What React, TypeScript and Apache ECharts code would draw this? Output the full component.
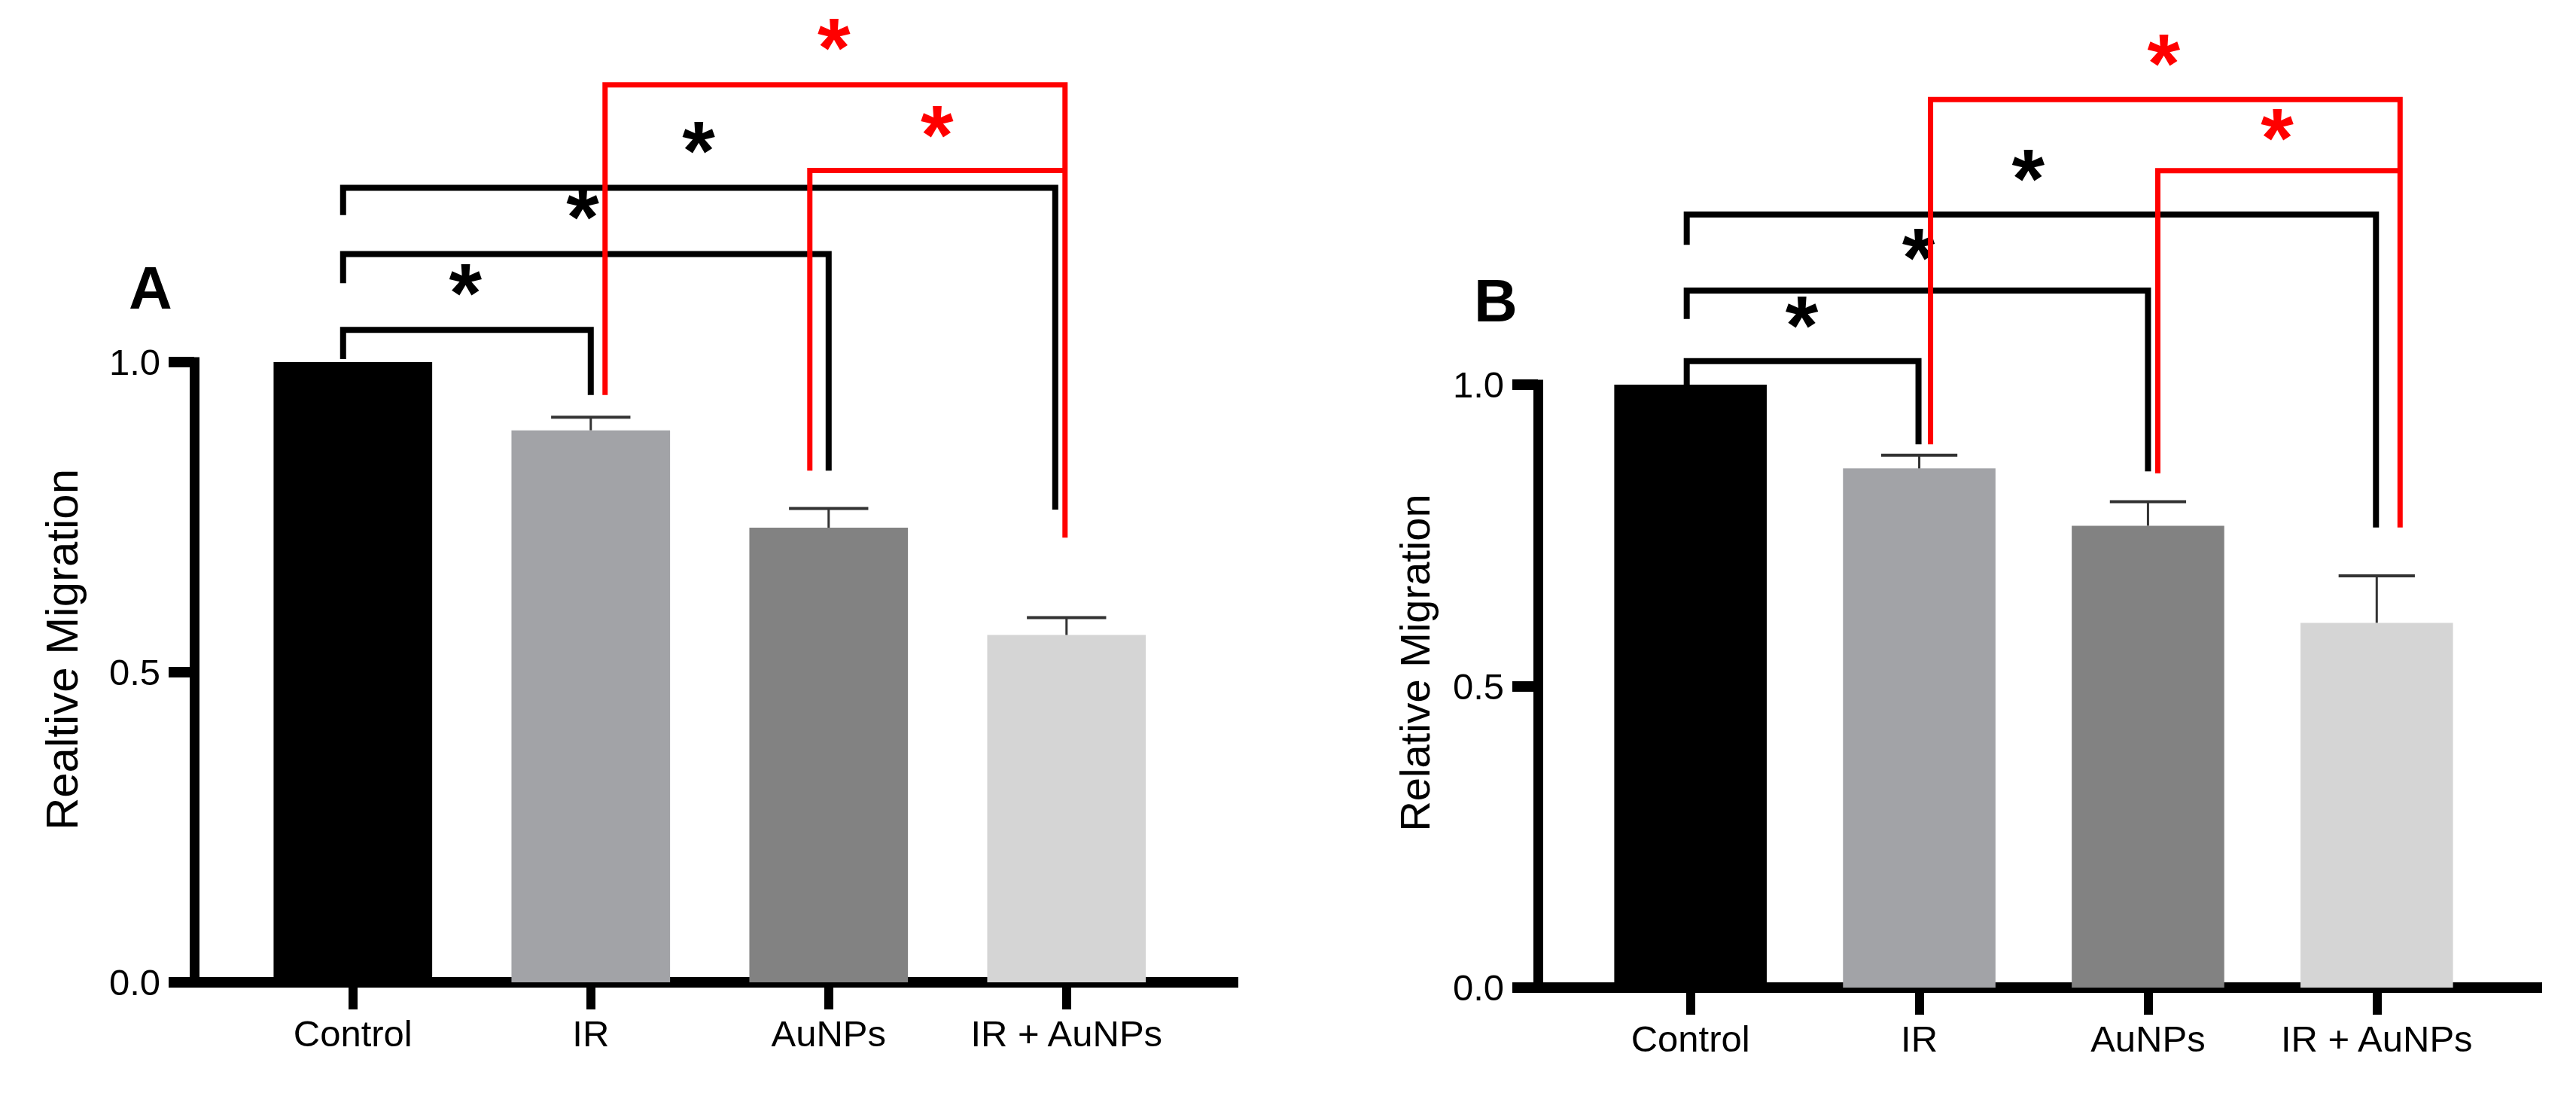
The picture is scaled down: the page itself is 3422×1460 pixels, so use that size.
import React, { useEffect, useRef } from "react";
import * as echarts from "echarts";

// ---------- data ----------
const categories = ["Control", "IR", "AuNPs", "IR + AuNPs"];
const yTickValues = [0, 0.5, 1.0];

const meansA = [1.0, 0.89, 0.733, 0.56];
const errorsA = [0, 0.021, 0.031, 0.028];
const meansB = [1.0, 0.861, 0.766, 0.605];
const errorsB = [0, 0.022, 0.04, 0.078];

// significance brackets: [fromCategory, toCategory, topValue, leftEndValue, rightEndValue]
const bracketsA = [
  [0, 1, 1.052, 1.005, 0.947],
  [0, 2, 1.174, 1.127, 0.825],
  [0, 3, 1.281, 1.237, 0.762],
  [1, 3, 1.447, 0.947, 0.717],
  [2, 3, 1.309, 0.825, 1.309],
];
// star positions: [categoryPosition, value]
const starsA = [
  [0.473, 1.132],
  [0.966, 1.255],
  [1.453, 1.362],
  [2.022, 1.528],
  [2.456, 1.387],
];
const bracketsB = [
  [0, 1, 1.039, 0.999, 0.901],
  [0, 2, 1.156, 1.109, 0.856],
  [0, 3, 1.282, 1.232, 0.763],
  [1, 3, 1.473, 0.901, 0.763],
  [2, 3, 1.355, 0.853, 1.355],
];
const starsB = [
  [0.487, 1.12],
  [0.997, 1.232],
  [1.476, 1.363],
  [2.069, 1.554],
  [2.565, 1.431],
];
// comparison group of each bracket (0 = vs Control, 1 = vs IR + AuNPs)
const bracketGroups = [0, 0, 0, 1, 1];

// ---------- styles / layout ----------
const barColors = ["#000000", "#a2a3a7", "#828282", "#d5d5d5"];
const groupColors = ["#000000", "#ff0000"];
const groupLineWidths = [8, 7];
const FONT = "Arial, 'Liberation Sans', Helvetica, sans-serif";
const X_MIN = -0.667;
const X_MAX = 3.7;
const STAR_SIZE = 112;

// pixel nudges of bracket legs relative to category centres: [left, right]
const legOffsetsA = [
  [-13, 0],
  [-13, 0],
  [-13, -15],
  [19, -2],
  [-25, -2],
];
const legOffsetsB = [
  [-5, -1],
  [-5, 0],
  [-5, -1],
  [15, 31],
  [13, 31],
];

const panels = [
  {
    letter: "A",
    yName: "Realtive Migration",
    means: meansA,
    errors: errorsA,
    brackets: bracketsA,
    stars: starsA,
    legOffsets: legOffsetsA,
    grid: { left: 258, top: 481, width: 1380, height: 824 },
    nameGap: 146,
    nameSize: 60,
    namePad: 60,
    letterPos: [200, 382],
  },
  {
    letter: "B",
    yName: "Relative Migration",
    means: meansB,
    errors: errorsB,
    brackets: bracketsB,
    stars: starsB,
    legOffsets: legOffsetsB,
    grid: { left: 2043, top: 511, width: 1327, height: 801 },
    nameGap: 136,
    nameSize: 56,
    namePad: 62,
    letterPos: [1987, 399],
  },
];

function buildOption() {
  const grid: any[] = [];
  const xAxis: any[] = [];
  const yAxis: any[] = [];
  const series: any[] = [];
  const graphic: any[] = [];

  panels.forEach((p, pi) => {
    grid.push({ ...p.grid, containLabel: false });
    const barWidth = (p.grid.width / (X_MAX - X_MIN)) * (2 / 3);

    xAxis.push({
      type: "value",
      gridIndex: pi,
      min: X_MIN,
      max: X_MAX,
      axisLine: { show: true, onZero: false, lineStyle: { color: "#000", width: 14, cap: "square" } },
      axisTick: { show: true, customValues: [0, 1, 2, 3], length: 36, lineStyle: { color: "#000", width: 12 } },
      axisLabel: {
        show: true,
        customValues: [0, 1, 2, 3],
        formatter: (v: number) => categories[Math.round(v)] ?? "",
        fontSize: 49,
        fontFamily: FONT,
        color: "#000",
        margin: 43,
      },
      splitLine: { show: false },
    });

    yAxis.push({
      type: "value",
      gridIndex: pi,
      min: 0,
      max: 1,
      interval: 0.5,
      name: p.yName,
      nameLocation: "middle",
      nameGap: p.nameGap,
      nameTextStyle: {
        fontSize: p.nameSize,
        fontFamily: FONT,
        color: "#000",
        padding: [0, 0, 0, p.namePad],
      },
      axisLine: { show: true, onZero: false, lineStyle: { color: "#000", width: 13, cap: "square" } },
      axisTick: { show: true, length: 34, lineStyle: { color: "#000", width: 14 } },
      axisLabel: {
        show: true,
        fontSize: 49,
        fontFamily: FONT,
        color: "#000",
        margin: 45,
        formatter: (v: number) => (yTickValues.includes(v) ? v.toFixed(1) : ""),
      },
      splitLine: { show: false },
    });

    series.push({
      type: "bar",
      xAxisIndex: pi,
      yAxisIndex: pi,
      barWidth,
      silent: true,
      data: p.means.map((m, i) => ({ value: [i, m], itemStyle: { color: barColors[i] } })),
    });

    series.push({
      type: "custom",
      xAxisIndex: pi,
      yAxisIndex: pi,
      silent: true,
      clip: false,
      z: 5,
      encode: { x: 0, y: 1 },
      data: p.means.map((m, i) => [i, m, p.errors[i]]),
      renderItem: (params: any, api: any) => {
        const x = api.value(0);
        const m = api.value(1);
        const e = api.value(2);
        if (!e) return { type: "group", children: [] };
        const base = api.coord([x, m]);
        const top = api.coord([x, m + e]);
        const half = api.size([1, 0])[0] / 6;
        return {
          type: "group",
          children: [
            { type: "line", shape: { x1: base[0], y1: base[1], x2: top[0], y2: top[1] }, style: { stroke: "#333", lineWidth: 3 } },
            { type: "line", shape: { x1: top[0] - half, y1: top[1], x2: top[0] + half, y2: top[1] }, style: { stroke: "#333", lineWidth: 4 } },
          ],
        };
      },
    });

    series.push({
      type: "custom",
      xAxisIndex: pi,
      yAxisIndex: pi,
      silent: true,
      clip: false,
      z: 6,
      encode: { x: 0, y: 2 },
      data: p.brackets.map((b, i) => [...b, p.stars[i][0], p.stars[i][1]]),
      renderItem: (params: any, api: any) => {
        const i = params.dataIndex;
        const from = api.value(0);
        const to = api.value(1);
        const top = api.value(2);
        const lb = api.value(3);
        const rb = api.value(4);
        const sx = api.value(5);
        const sy = api.value(6);
        const off = p.legOffsets[i];
        const g = bracketGroups[i];
        const color = groupColors[g];
        const pLB = api.coord([from, lb]);
        const pLT = api.coord([from, top]);
        const pRT = api.coord([to, top]);
        const pRB = api.coord([to, rb]);
        const xl = pLB[0] + off[0];
        const xr = pRT[0] + off[1];
        const star = api.coord([sx, sy]);
        return {
          type: "group",
          children: [
            {
              type: "polyline",
              shape: {
                points: [
                  [xl, pLB[1]],
                  [xl, pLT[1]],
                  [xr, pRT[1]],
                  [xr, pRB[1]],
                ],
              },
              style: { stroke: color, lineWidth: groupLineWidths[g], fill: null, lineJoin: "miter", lineCap: "butt" },
            },
            {
              type: "text",
              x: star[0],
              y: star[1] + STAR_SIZE * 0.155,
              style: {
                text: "*",
                fill: color,
                fontSize: STAR_SIZE,
                fontWeight: "bold",
                fontFamily: FONT,
                align: "center",
                verticalAlign: "middle",
              },
            },
          ],
        };
      },
    });

    graphic.push({
      type: "text",
      x: p.letterPos[0],
      y: p.letterPos[1],
      silent: true,
      style: {
        text: p.letter,
        fill: "#000",
        fontSize: 80,
        fontWeight: "bold",
        fontFamily: FONT,
        align: "center",
        verticalAlign: "middle",
      },
    });
  });

  return {
    animation: false,
    backgroundColor: "#ffffff",
    grid,
    xAxis,
    yAxis,
    series,
    graphic,
  };
}

export default function App() {
  const ref = useRef<HTMLDivElement>(null);
  useEffect(() => {
    document.body.style.margin = "0";
    const chart = echarts.init(ref.current!, undefined, { renderer: "svg", width: 3422, height: 1460 });
    chart.setOption(buildOption() as any);
    return () => chart.dispose();
  }, []);
  return <div ref={ref} style={{ width: 3422, height: 1460 }} />;
}
